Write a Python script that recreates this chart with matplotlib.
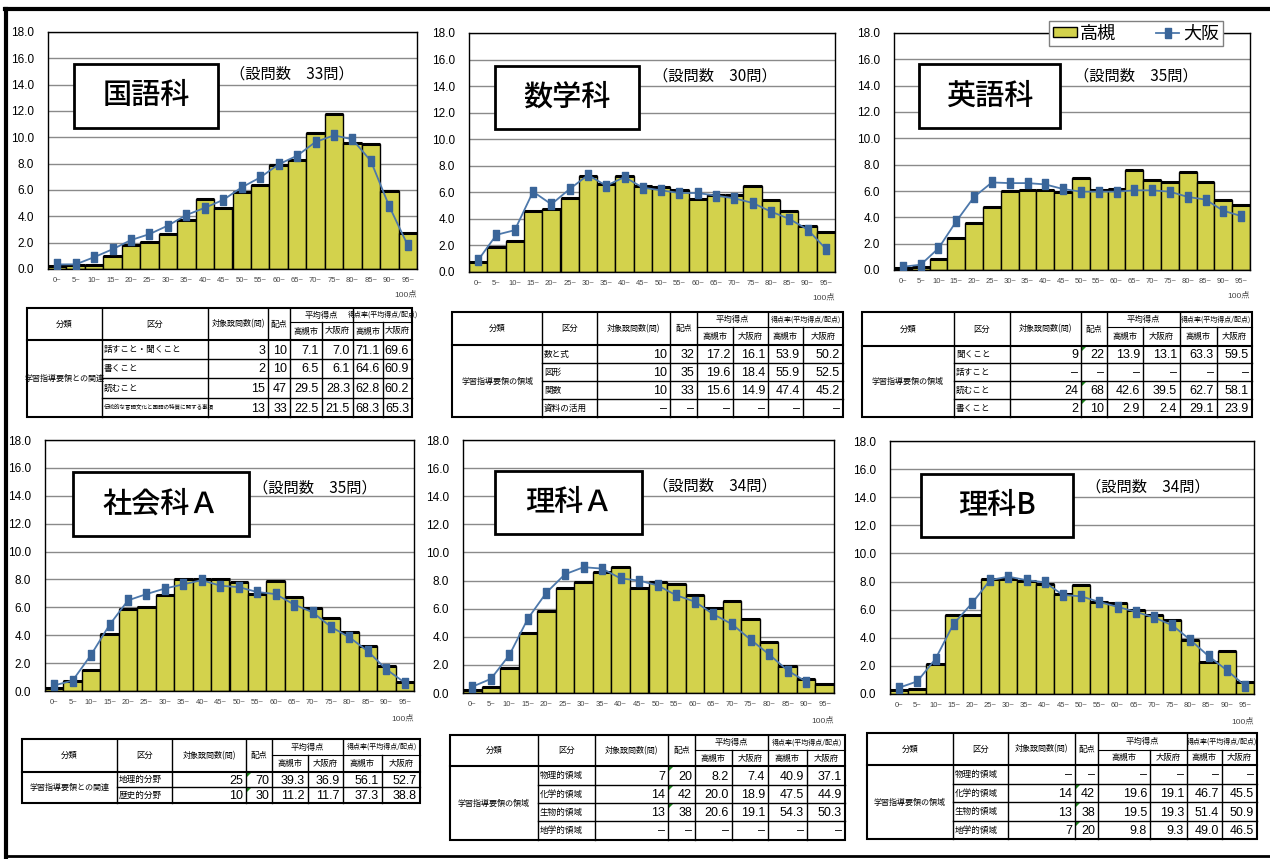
import numpy as np
import matplotlib.pyplot as plt
from matplotlib.patches import Rectangle, Polygon

plt.rcParams['font.family'] = ['Noto Sans CJK JP', 'DejaVu Sans']
NARROW = ['Liberation Sans Narrow', 'Liberation Sans', 'Noto Sans CJK JP']

W, H = 1270, 859

bins = ['0~', '5~', '10~', '15~', '20~', '25~', '30~', '35~', '40~', '45~',
        '50~', '55~', '60~', '65~', '70~', '75~', '80~', '85~', '90~', '95~']

# percentage of students per score band: 高槻 (bars) / 大阪 (line)
kokugo_t = [0.2, 0.3, 0.3, 0.95, 1.8, 2.05, 2.65, 3.7, 5.35, 4.6,
            5.85, 6.4, 7.9, 8.3, 10.3, 11.8, 9.6, 9.5, 5.9, 2.7]
kokugo_o = [0.35, 0.35, 0.9, 1.5, 2.2, 2.65, 3.3, 4.1, 4.65, 5.25,
            6.2, 6.95, 7.95, 8.6, 9.65, 10.15, 9.85, 8.2, 4.75, 1.8]
sugaku_t = [0.75, 1.9, 2.35, 4.6, 4.75, 5.6, 7.2, 6.6, 7.2, 6.5,
            6.4, 6.2, 5.5, 5.8, 5.8, 6.5, 5.4, 4.6, 3.5, 3.0]
sugaku_o = [0.9, 2.8, 3.15, 6.05, 5.1, 6.25, 7.3, 6.5, 7.15, 6.35,
            6.15, 5.95, 5.95, 5.75, 5.55, 5.2, 4.55, 4.0, 3.2, 1.75]
eigo_t = [0.15, 0.25, 0.85, 2.4, 3.55, 4.8, 6.0, 6.1, 6.1, 5.95,
          6.95, 6.05, 6.15, 7.6, 6.85, 6.65, 7.45, 6.65, 5.35, 4.9]
eigo_o = [0.25, 0.4, 1.65, 3.7, 5.55, 6.65, 6.6, 6.6, 6.5, 6.15,
          5.95, 5.95, 5.95, 6.05, 6.05, 5.95, 5.55, 5.35, 4.5, 4.1]
shakai_t = [0.2, 0.75, 1.5, 4.1, 5.85, 6.0, 6.9, 8.05, 8.05, 8.05,
            7.8, 6.95, 7.9, 6.75, 5.95, 5.25, 4.2, 3.25, 1.8, 0.65]
shakai_o = [0.4, 0.75, 2.6, 4.75, 6.5, 6.95, 7.35, 7.65, 7.95, 7.55,
            7.45, 7.1, 6.95, 6.2, 5.65, 4.6, 3.85, 2.85, 1.55, 0.6]
rikaA_t = [0.2, 0.45, 1.8, 4.3, 5.85, 7.45, 7.9, 8.6, 8.95, 7.45,
           7.9, 7.75, 7.0, 6.05, 6.55, 5.25, 3.6, 1.9, 1.0, 0.65]
rikaA_o = [0.45, 1.0, 2.7, 5.3, 7.15, 8.45, 8.95, 8.85, 8.15, 8.0,
           7.65, 6.95, 6.5, 5.6, 4.9, 3.8, 2.75, 1.6, 0.8, np.nan]
rikaB_t = [0.25, 0.35, 2.15, 5.6, 5.6, 8.15, 8.2, 8.05, 7.8, 7.15,
           7.75, 6.55, 6.45, 5.95, 5.6, 5.25, 3.85, 2.25, 3.05, 0.85]
rikaB_o = [0.45, 0.9, 2.5, 5.0, 6.45, 8.1, 8.35, 8.1, 7.95, 7.05,
           6.95, 6.55, 6.2, 5.85, 5.45, 4.9, 3.85, 2.7, 1.7, 0.6]

# tables
kokugo_cat = '学習指導要領との関連'
kokugo_items = ['話すこと・聞くこと', '書くこと', '読むこと', '伝統的な言語文化と国語の特質に関する事項']
kokugo_counts = [3, 2, 15, 13]
kokugo_points = [10, 10, 47, 33]
kokugo_avg_t = [7.1, 6.5, 29.5, 22.5]
kokugo_avg_o = [7.0, 6.1, 28.3, 21.5]
kokugo_rate_t = [71.1, 64.6, 62.8, 68.3]
kokugo_rate_o = [69.6, 60.9, 60.2, 65.3]

sugaku_cat = '学習指導要領の領域'
sugaku_items = ['数と式', '図形', '関数', '資料の活用']
sugaku_counts = [10, 10, 10, None]
sugaku_points = [32, 35, 33, None]
sugaku_avg_t = [17.2, 19.6, 15.6, None]
sugaku_avg_o = [16.1, 18.4, 14.9, None]
sugaku_rate_t = [53.9, 55.9, 47.4, None]
sugaku_rate_o = [50.2, 52.5, 45.2, None]

eigo_cat = '学習指導要領の領域'
eigo_items = ['聞くこと', '話すこと', '読むこと', '書くこと']
eigo_counts = [9, None, 24, 2]
eigo_points = [22, None, 68, 10]
eigo_avg_t = [13.9, None, 42.6, 2.9]
eigo_avg_o = [13.1, None, 39.5, 2.4]
eigo_rate_t = [63.3, None, 62.7, 29.1]
eigo_rate_o = [59.5, None, 58.1, 23.9]

shakai_cat = '学習指導要領との関連'
shakai_items = ['地理的分野', '歴史的分野']
shakai_counts = [25, 10]
shakai_points = [70, 30]
shakai_avg_t = [39.3, 11.2]
shakai_avg_o = [36.9, 11.7]
shakai_rate_t = [56.1, 37.3]
shakai_rate_o = [52.7, 38.8]

rika_cat = '学習指導要領の領域'
rika_items = ['物理的領域', '化学的領域', '生物的領域', '地学的領域']
rikaA_counts = [7, 14, 13, None]
rikaA_points = [20, 42, 38, None]
rikaA_avg_t = [8.2, 20.0, 20.6, None]
rikaA_avg_o = [7.4, 18.9, 19.1, None]
rikaA_rate_t = [40.9, 47.5, 54.3, None]
rikaA_rate_o = [37.1, 44.9, 50.3, None]
rikaB_counts = [None, 14, 13, 7]
rikaB_points = [None, 42, 38, 20]
rikaB_avg_t = [None, 19.6, 19.5, 9.8]
rikaB_avg_o = [None, 19.1, 19.3, 9.3]
rikaB_rate_t = [None, 46.7, 51.4, 49.0]
rikaB_rate_o = [None, 45.5, 50.9, 46.5]

BAR = '#d3d24c'
LINE = '#4d78ab'
MARK = '#3a6599'
RECT = [(-0.3, -0.5), (0.3, -0.5), (0.3, 0.5), (-0.3, 0.5), (-0.3, -0.5)]

fig = plt.figure(figsize=(W / 100, H / 100), dpi=100)


def draw_chart(t_vals, o_vals, box):
    x0, y0, x1, y1 = box
    ax = fig.add_axes([x0 / W, 1 - y1 / H, (x1 - x0) / W, (y1 - y0) / H])
    x = np.arange(len(bins))
    bars = ax.bar(x, t_vals, width=1.0, color=BAR, edgecolor='black', linewidth=1.0, zorder=2)
    ax.hlines(t_vals, x - 0.5, x + 0.5, color='black', lw=2.2, zorder=2)
    line, = ax.plot(x, o_vals, color=LINE, lw=1.3, marker=RECT, markersize=7,
                    markerfacecolor=MARK, markeredgecolor=MARK, zorder=3)
    ax.set_xlim(-0.5, len(bins) - 0.5)
    ax.set_ylim(0, 18)
    ticks = np.arange(0, 19, 2)
    ax.set_yticks(ticks)
    ax.set_yticklabels([f'{v:.1f}' for v in ticks], fontsize=8.5, family=NARROW)
    ax.set_xticks(x)
    ax.set_xticklabels(bins, fontsize=5.5, color='#444444', family=NARROW)
    ax.tick_params(length=0)
    ax.tick_params(axis='y', pad=10)
    ax.tick_params(axis='x', pad=6)
    ax.yaxis.grid(True, color='#8a8a8a', lw=1)
    ax.set_axisbelow(True)
    for s in ax.spines.values():
        s.set_color('black')
        s.set_linewidth(1)
    ax.text(1.0, -0.11, '100点', transform=ax.transAxes, ha='right', va='center',
            fontsize=6, color='#444444', family=NARROW)
    return bars, line


charts = [
    (kokugo_t, kokugo_o, (48, 32, 417, 269)),
    (sugaku_t, sugaku_o, (469, 33, 835, 272)),
    (eigo_t, eigo_o, (894, 33, 1250, 270)),
    (shakai_t, shakai_o, (45, 440, 414, 691)),
    (rikaA_t, rikaA_o, (463, 440, 834, 693)),
    (rikaB_t, rikaB_o, (890, 441, 1254, 694)),
]
handles = [draw_chart(*c) for c in charts]

ov = fig.add_axes([0, 0, 1, 1], zorder=10)
ov.set_xlim(0, W)
ov.set_ylim(H, 0)
ov.axis('off')
ov.patch.set_alpha(0)

# titles
titles = [
    ('国語科', (74, 64, 218, 128), '（設問数　33問）', (292, 74)),
    ('数学科', (495, 66, 639, 129), '（設問数　30問）', (715, 76)),
    ('英語科', (919, 64, 1060, 128), '（設問数　35問）', (1136, 76)),
    ('社会科Ａ', (73, 472, 249, 536), '（設問数　35問）', (315, 488)),
    ('理科Ａ', (495, 471, 642, 534), '（設問数　34問）', (715, 486)),
    ('理科B', (921, 474, 1073, 537), '（設問数　34問）', (1148, 487)),
]
for name, (bx0, by0, bx1, by1), note, (nx, ny) in titles:
    ov.add_patch(Rectangle((bx0, by0), bx1 - bx0, by1 - by0, facecolor='white',
                           edgecolor='black', lw=2))
    ov.text((bx0 + bx1) / 2, (by0 + by1) / 2, name, ha='center', va='center',
            fontsize=21, weight='medium')
    ov.text(nx, ny, note, ha='center', va='center', fontsize=11)


def fmt(v, j):
    if v is None:
        return '–'
    return f'{v}' if j < 2 else f'{v:.1f}'


def draw_table(c, rows, category, items, counts, points, avg_t, avg_o, rate_t, rate_o,
               flags, item_size=6.2):
    top, mid, hb = rows[0], rows[1], rows[2]
    body = rows[2:]
    bottom = body[-1]
    ov.add_patch(Rectangle((c[0], top), c[-1] - c[0], bottom - top, fill=False,
                           lw=1.5, edgecolor='black'))
    for i in [1, 2, 3, 4, 6]:
        ov.plot([c[i]] * 2, [top, bottom], color='black', lw=1)
    for i in [5, 7]:
        ov.plot([c[i]] * 2, [mid, bottom], color='black', lw=1)
    ov.plot([c[4], c[8]], [mid, mid], color='black', lw=0.8)
    ov.plot([c[0], c[8]], [hb, hb], color='black', lw=1.5)
    for y in body[1:-1]:
        ov.plot([c[1], c[8]], [y, y], color='black', lw=1)

    def ctext(xa, xb, ya, yb, s, size=6):
        ov.text((xa + xb) / 2, (ya + yb) / 2, s, ha='center', va='center', fontsize=size)

    ctext(c[0], c[1], top, hb, '分類')
    ctext(c[1], c[2], top, hb, '区分')
    ctext(c[2], c[3], top, hb, '対象設問数(問)', 5.8)
    ctext(c[3], c[4], top, hb, '配点')
    ctext(c[4], c[6], top, mid, '平均得点')
    ctext(c[6], c[8], top, mid, '得点率(平均得点/配点)', 5)
    ctext(c[4], c[5], mid, hb, '高槻市')
    ctext(c[5], c[6], mid, hb, '大阪府')
    ctext(c[6], c[7], mid, hb, '高槻市')
    ctext(c[7], c[8], mid, hb, '大阪府')
    ctext(c[0], c[1], hb, bottom, category, 5.8)
    for r in range(len(items)):
        ya, yb = body[r], body[r + 1]
        ym = (ya + yb) / 2
        size = item_size if len(items[r]) < 12 else 4.0
        ov.text(c[1] + 2, ym, items[r], ha='left', va='center', fontsize=size)
        vals = [counts[r], points[r], avg_t[r], avg_o[r], rate_t[r], rate_o[r]]
        for j, v in enumerate(vals):
            ov.text(c[j + 3] - 3, ym + 1, fmt(v, j), ha='right', va='center',
                    fontsize=9, family=NARROW)
        if flags[r]:
            ov.add_patch(Polygon([(c[3] + 1, ya + 1), (c[3] + 5, ya + 1), (c[3] + 1, ya + 5)],
                                 closed=True, color='#1f8a1f', lw=0))


draw_table([27, 102, 208, 268, 290, 322, 353, 383, 412],
           [308, 322, 340, 359, 378, 398, 417],
           kokugo_cat, kokugo_items, kokugo_counts, kokugo_points,
           kokugo_avg_t, kokugo_avg_o, kokugo_rate_t, kokugo_rate_o, [0, 0, 0, 0])
draw_table([452, 542, 597, 670, 697, 733, 768, 803, 843],
           [312, 327, 345, 363, 381, 399, 417],
           sugaku_cat, sugaku_items, sugaku_counts, sugaku_points,
           sugaku_avg_t, sugaku_avg_o, sugaku_rate_t, sugaku_rate_o, [0, 0, 0, 0])
draw_table([862, 954, 1010, 1081, 1107, 1143, 1180, 1217, 1252],
           [312, 327, 346, 363, 381, 399, 417],
           eigo_cat, eigo_items, eigo_counts, eigo_points,
           eigo_avg_t, eigo_avg_o, eigo_rate_t, eigo_rate_o, [1, 0, 1, 1])
draw_table([22, 117, 172, 246, 272, 308, 343, 382, 420],
           [739, 755, 772, 787, 803],
           shakai_cat, shakai_items, shakai_counts, shakai_points,
           shakai_avg_t, shakai_avg_o, shakai_rate_t, shakai_rate_o, [1, 1])
draw_table([450, 538, 595, 668, 695, 732, 768, 807, 845],
           [735, 750, 766, 785, 803, 821, 840],
           rika_cat, rika_items, rikaA_counts, rikaA_points,
           rikaA_avg_t, rikaA_avg_o, rikaA_rate_t, rikaA_rate_o, [1, 1, 1, 0])
draw_table([867, 953, 1008, 1075, 1098, 1150, 1187, 1222, 1257],
           [733, 750, 765, 784, 802, 821, 839],
           rika_cat, rika_items, rikaB_counts, rikaB_points,
           rikaB_avg_t, rikaB_avg_o, rikaB_rate_t, rikaB_rate_o, [0, 1, 1, 1])

# page frame
ov.plot([5, W], [9, 9], color='black', lw=3)
ov.plot([6, 6], [9, H], color='black', lw=3)
ov.plot([5, W], [856, 856], color='black', lw=2)

leg = fig.legend([handles[2][0], handles[2][1]], ['高槻', '大阪'], loc='center',
                 bbox_to_anchor=(1136 / W, 1 - 33.5 / H), ncol=2, fontsize=13,
                 frameon=True, fancybox=False, edgecolor='#808080', framealpha=1,
                 handlelength=1.3, handleheight=0.45, columnspacing=2.2,
                 borderpad=0.2, borderaxespad=0, handletextpad=0.2)
leg.get_frame().set_linewidth(1)

fig.savefig('out.png', dpi=100)
